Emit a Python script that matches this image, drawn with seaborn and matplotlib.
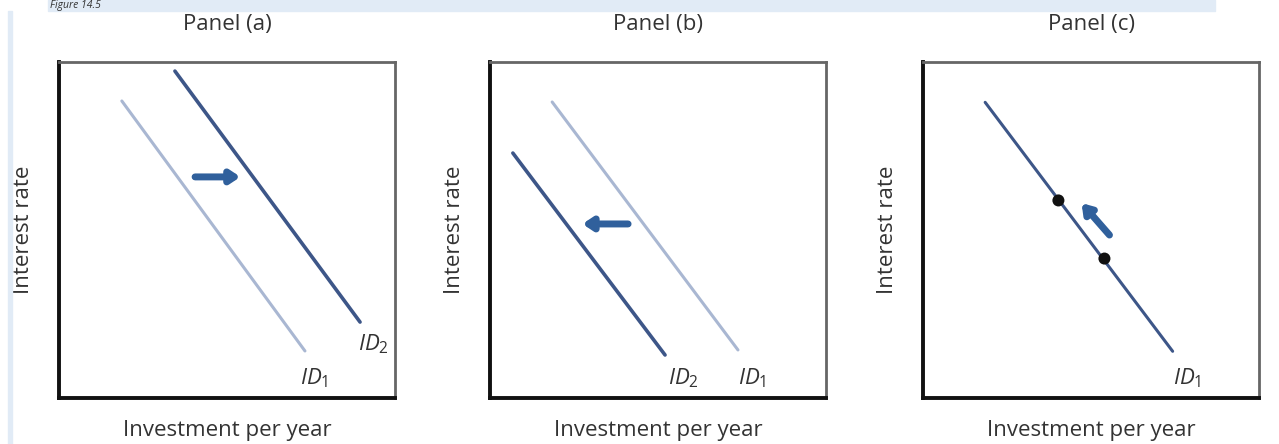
import matplotlib
matplotlib.use("Agg")
import matplotlib.pyplot as plt
import matplotlib.patheffects as pe
from matplotlib.patches import Rectangle
import seaborn as sns

# data (axes units 0..10)
panels = ["Panel (a)", "Panel (b)", "Panel (c)"]

a_id1_x = [1.87, 7.32]
a_id1_y = [8.84, 1.40]
a_id2_x = [3.45, 8.96]
a_id2_y = [9.73, 2.26]
a_arrow = [(4.05, 6.58), (5.40, 6.58)]

b_id1_x = [1.85, 7.38]
b_id1_y = [8.81, 1.43]
b_id2_x = [0.68, 5.21]
b_id2_y = [7.29, 1.28]
b_arrow = [(4.11, 5.18), (2.75, 5.18)]

c_id1_x = [1.85, 7.43]
c_id1_y = [8.80, 1.39]
c_pts_x = [4.03, 5.40]
c_pts_y = [5.88, 4.15]
c_arrow = [(5.55, 4.85), (4.72, 5.80)]

labels_a = [("$\\mathit{ID}_1$", 7.6, 0.6), ("$\\mathit{ID}_2$", 9.35, 1.6)]
labels_b = [("$\\mathit{ID}_2$", 5.75, 0.6), ("$\\mathit{ID}_1$", 7.8, 0.6)]
labels_c = [("$\\mathit{ID}_1$", 7.85, 0.6)]

DARK = "#3d5688"
LIGHT = "#a9b7d2"
ARROW = "#30609c"
TXT = "#333333"

sns.set_theme(style="white")
plt.rcParams['font.family'] = ['Open Sans', 'DejaVu Sans']
plt.rcParams['mathtext.fontset'] = 'custom'
plt.rcParams['mathtext.it'] = 'Open Sans:italic'
plt.rcParams['mathtext.rm'] = 'Open Sans'

fig = plt.figure(figsize=(12.79, 4.44), dpi=100)

# light blue decoration at top and left
fig.patches.append(Rectangle((48 / 1279, 1 - 11 / 444), (1215 - 48) / 1279, 11 / 444,
                             transform=fig.transFigure, color="#e1ebf6", zorder=0))
fig.patches.append(Rectangle((8 / 1279, 0), 4 / 1279, 1 - 11 / 444,
                             transform=fig.transFigure, color="#e1ebf6", zorder=0))
fig.text(50 / 1279, 0.999, "Figure 14.5", style="italic", fontsize=7.5, va="top",
         ha="left", color=TXT)

lefts = [59, 490, 923]
axes = [fig.add_axes([l / 1279, 46 / 444, 336 / 1279, 336 / 444]) for l in lefts]


def frame(ax, title):
    ax.set_xlim(0, 10)
    ax.set_ylim(0, 10)
    ax.set_xticks([])
    ax.set_yticks([])
    ax.set_title(title, fontsize=16, color=TXT, pad=23)
    ax.set_xlabel("Investment per year", fontsize=16, color=TXT, labelpad=16)
    ax.set_ylabel("Interest rate", fontsize=16, color=TXT, labelpad=18)
    for side in ["left", "bottom"]:
        ax.spines[side].set_color("#111111")
        ax.spines[side].set_linewidth(2.8)
    for side in ["top", "right"]:
        ax.spines[side].set_color("#666666")
        ax.spines[side].set_linewidth(2.0)
    for s in ax.spines.values():
        s.set_path_effects([pe.SimplePatchShadow(offset=(2, -2), alpha=0.35,
                                                 shadow_rgbFace="#777777"), pe.Normal()])


def arrow(ax, pts):
    ax.annotate("", xy=pts[1], xytext=pts[0],
                arrowprops=dict(arrowstyle="-|>,head_length=0.45,head_width=0.3",
                                color=ARROW, lw=5, shrinkA=0, shrinkB=0))


def labels(ax, labs):
    for t, x, y in labs:
        ax.text(x, y, t, fontsize=16, color=TXT, ha="center", va="center")


# Panel (a)
ax = axes[0]
sns.lineplot(x=a_id1_x, y=a_id1_y, ax=ax, color=LIGHT, lw=2.2)
sns.lineplot(x=a_id2_x, y=a_id2_y, ax=ax, color=DARK, lw=2.6)
arrow(ax, a_arrow)
labels(ax, labels_a)
frame(ax, panels[0])

# Panel (b)
ax = axes[1]
sns.lineplot(x=b_id1_x, y=b_id1_y, ax=ax, color=LIGHT, lw=2.2)
sns.lineplot(x=b_id2_x, y=b_id2_y, ax=ax, color=DARK, lw=2.6)
arrow(ax, b_arrow)
labels(ax, labels_b)
frame(ax, panels[1])

# Panel (c)
ax = axes[2]
sns.lineplot(x=c_id1_x, y=c_id1_y, ax=ax, color=DARK, lw=2.2)
sns.scatterplot(x=c_pts_x, y=c_pts_y, ax=ax, color="#111111", s=75, zorder=5,
                edgecolor="none")
arrow(ax, c_arrow)
labels(ax, labels_c)
frame(ax, panels[2])

fig.savefig("out.png", dpi=100)
